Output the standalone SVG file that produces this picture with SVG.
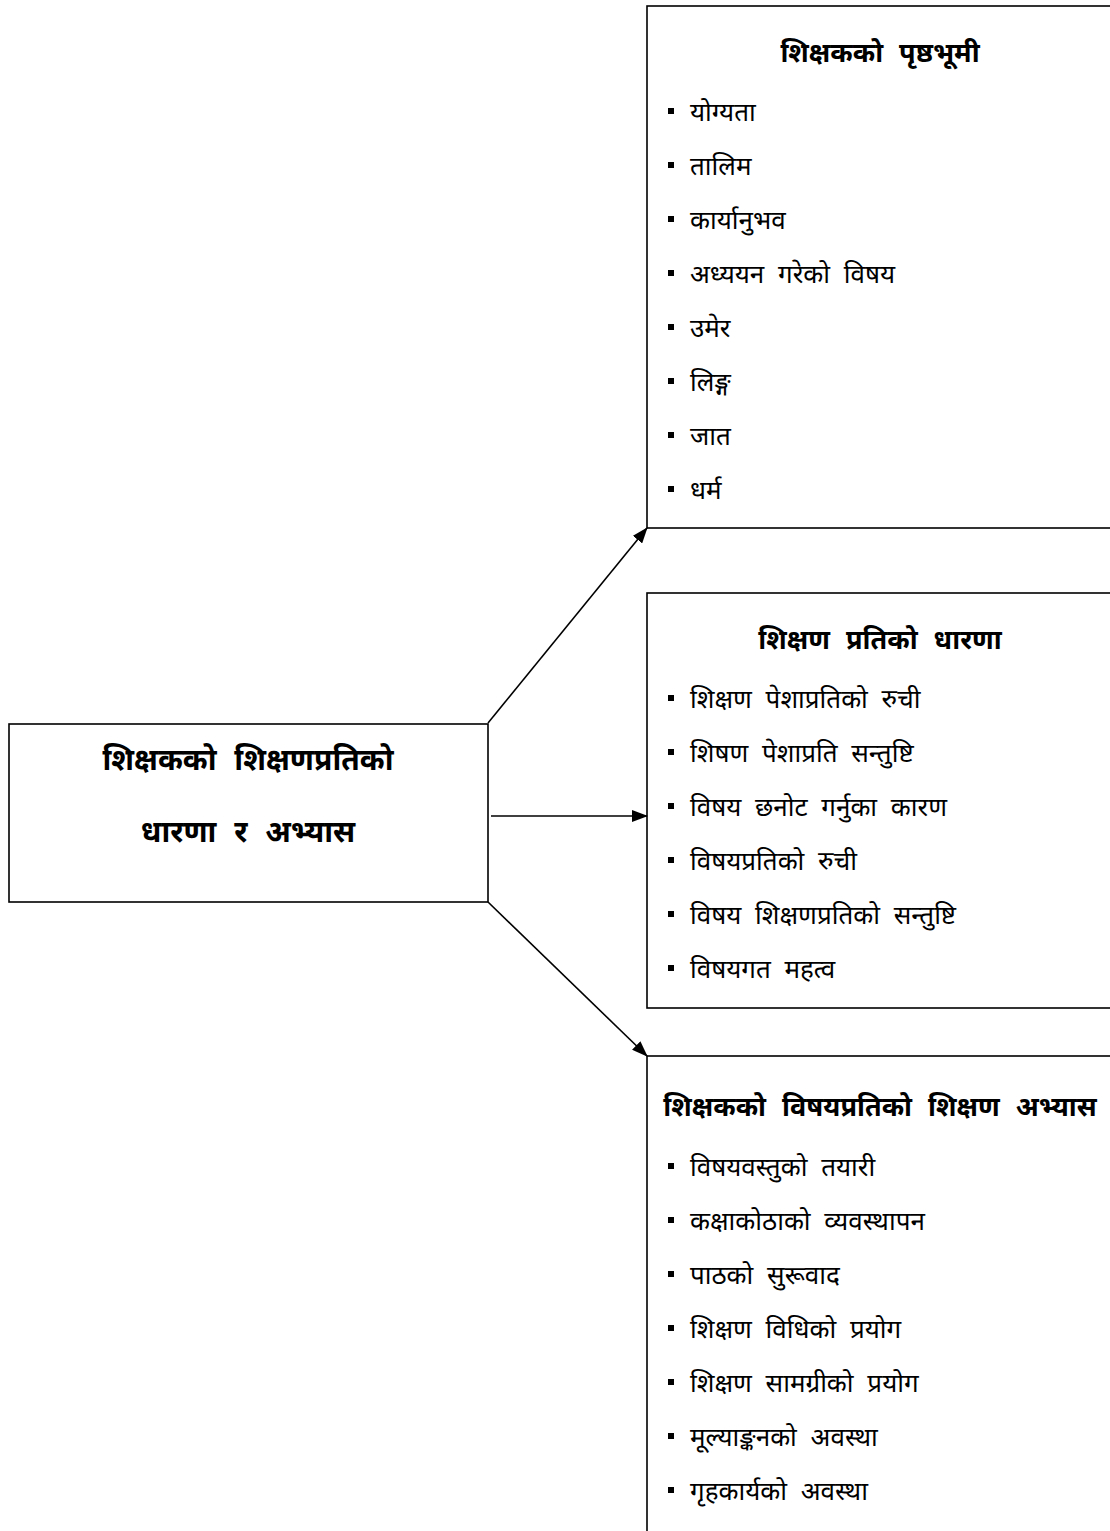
<svg xmlns="http://www.w3.org/2000/svg" width="1110" height="1531" viewBox="0 0 1110 1531">
<defs>
<marker id="ah" markerWidth="16" markerHeight="12" refX="15" refY="6" orient="auto" markerUnits="userSpaceOnUse">
<path d="M0,0 L16,6 L0,12 Z" fill="#000"/>
</marker>
</defs>
<style>
.box{fill:#fff;stroke:#000;stroke-width:1.6}
.t{font-family:"Noto Sans","DejaVu Sans",sans-serif;font-weight:bold;font-size:27px;fill:#000;text-anchor:middle;word-spacing:9px}
.big{font-size:30px;word-spacing:10px}
.i{font-family:"Noto Sans","DejaVu Sans",sans-serif;font-size:26px;fill:#000;word-spacing:7px}
.b{fill:#000}
.c{stroke:#000;stroke-width:1.6;fill:none;marker-end:url(#ah)}
</style>
<rect width="1110" height="1531" fill="#fff"/>
<g id="main">
<rect class="box" x="9" y="724" width="479" height="178"/>
<text class="t big" x="248" y="770">शिक्षकको शिक्षणप्रतिको</text>
<text class="t big" x="248" y="842">धारणा र अभ्यास</text>
</g>
<g id="background">
<rect class="box" x="647" y="6" width="470" height="522"/>
<text class="t" x="880" y="62">शिक्षकको पृष्ठभूमी</text>
<g class="b">
<rect x="668" y="108" width="6" height="6"/><rect x="668" y="162" width="6" height="6"/><rect x="668" y="216" width="6" height="6"/><rect x="668" y="270" width="6" height="6"/><rect x="668" y="324" width="6" height="6"/><rect x="668" y="378" width="6" height="6"/><rect x="668" y="432" width="6" height="6"/><rect x="668" y="486" width="6" height="6"/>
</g>
<text class="i" x="690" y="121">योग्यता</text>
<text class="i" x="690" y="175">तालिम</text>
<text class="i" x="690" y="229">कार्यानुभव</text>
<text class="i" x="690" y="283">अध्ययन गरेको विषय</text>
<text class="i" x="690" y="337">उमेर</text>
<text class="i" x="690" y="391">लिङ्ग</text>
<text class="i" x="690" y="445">जात</text>
<text class="i" x="690" y="499">धर्म</text>
</g>
<g id="perception">
<rect class="box" x="647" y="593" width="470" height="415"/>
<text class="t" x="880" y="649">शिक्षण प्रतिको धारणा</text>
<g class="b">
<rect x="668" y="695" width="6" height="6"/><rect x="668" y="749" width="6" height="6"/><rect x="668" y="803" width="6" height="6"/><rect x="668" y="857" width="6" height="6"/><rect x="668" y="911" width="6" height="6"/><rect x="668" y="965" width="6" height="6"/>
</g>
<text class="i" x="690" y="708">शिक्षण पेशाप्रतिको रुची</text>
<text class="i" x="690" y="762">शिषण पेशाप्रति सन्तुष्टि</text>
<text class="i" x="690" y="816">विषय छनोट गर्नुका कारण</text>
<text class="i" x="690" y="870">विषयप्रतिको रुची</text>
<text class="i" x="690" y="924">विषय शिक्षणप्रतिको सन्तुष्टि</text>
<text class="i" x="690" y="978">विषयगत महत्व</text>
</g>
<g id="practice">
<rect class="box" x="647" y="1056" width="470" height="490"/>
<text class="t" x="880" y="1116">शिक्षकको विषयप्रतिको शिक्षण अभ्यास</text>
<g class="b">
<rect x="668" y="1163" width="6" height="6"/><rect x="668" y="1217" width="6" height="6"/><rect x="668" y="1271" width="6" height="6"/><rect x="668" y="1325" width="6" height="6"/><rect x="668" y="1379" width="6" height="6"/><rect x="668" y="1433" width="6" height="6"/><rect x="668" y="1487" width="6" height="6"/>
</g>
<text class="i" x="690" y="1176">विषयवस्तुको तयारी</text>
<text class="i" x="690" y="1230">कक्षाकोठाको व्यवस्थापन</text>
<text class="i" x="690" y="1284">पाठको सुरूवाद</text>
<text class="i" x="690" y="1338">शिक्षण विधिको प्रयोग</text>
<text class="i" x="690" y="1392">शिक्षण सामग्रीको प्रयोग</text>
<text class="i" x="690" y="1446">मूल्याङ्कनको अवस्था</text>
<text class="i" x="690" y="1500">गृहकार्यको अवस्था</text>
</g>
<g id="connectors">
<line class="c" x1="488" y1="723" x2="647" y2="528"/>
<line class="c" x1="491" y1="816" x2="647" y2="816"/>
<line class="c" x1="488" y1="902" x2="647" y2="1056"/>
</g>
</svg>
